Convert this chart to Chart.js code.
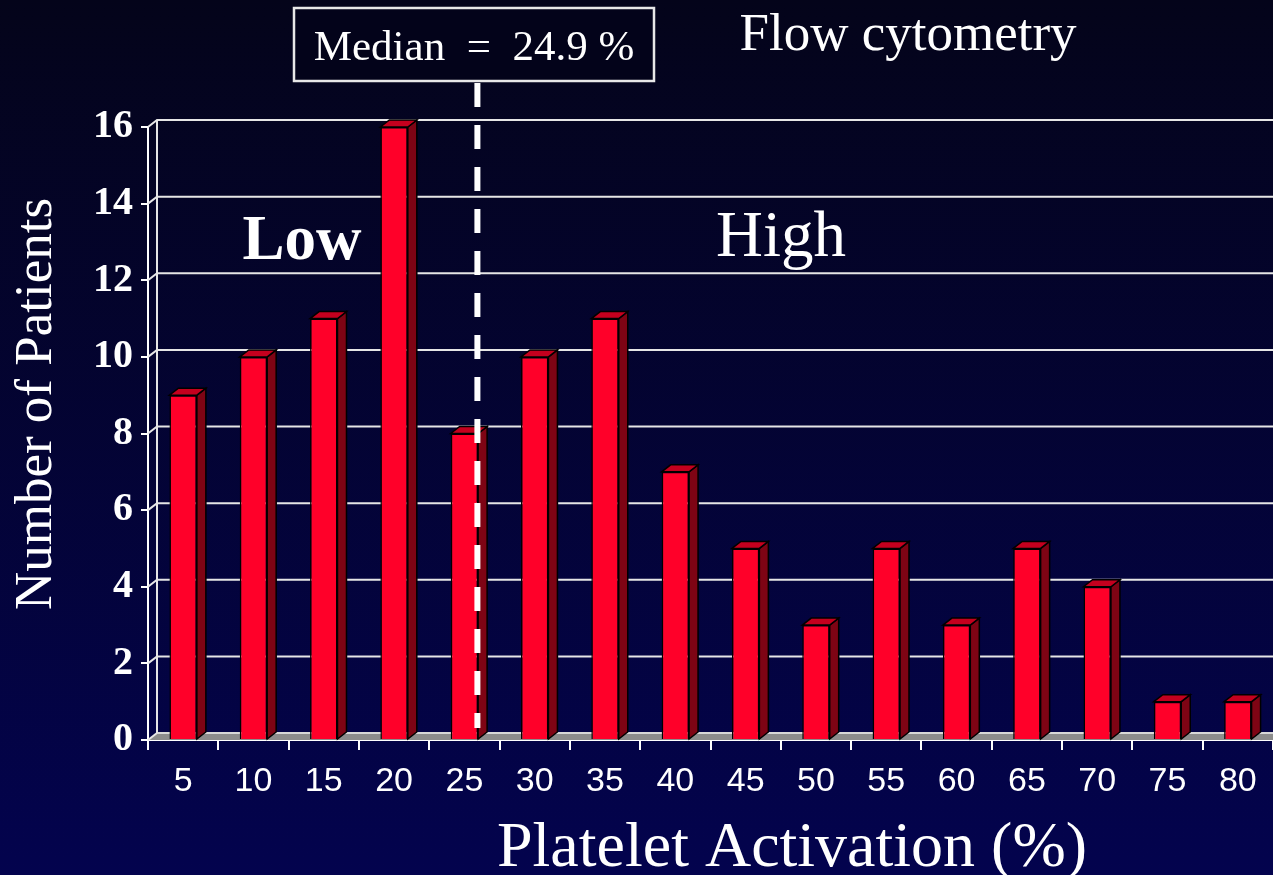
<!DOCTYPE html>
<html>
<head>
<meta charset="utf-8">
<script src="https://cdn.jsdelivr.net/npm/chart.js@4"></script>
<style>
  html, body { margin: 0; padding: 0; background: #000018; }
  #wrap { width: 1273px; height: 875px; }
</style>
</head>
<body>
<div id="wrap"><canvas id="myChart" width="1273" height="875"></canvas></div>
<script>
const categories = ["5","10","15","20","25","30","35","40","45","50","55","60","65","70","75","80"];
const patients = [9, 10, 11, 16, 8, 10, 11, 7, 5, 3, 5, 3, 5, 4, 1, 1];
const yTicks = [0, 2, 4, 6, 8, 10, 12, 14, 16];
const medianLabel = "Median  =  24.9 %";

// depth of the fake 3d
const DX = 9, DY = 7;
const SERIF = "'Liberation Serif', 'Times New Roman', serif";

const bgPlugin = {
    id: "bg",
    beforeDraw(chart) {
        const c = chart.ctx;
        const g = c.createLinearGradient(0, 0, 0, chart.height);
        g.addColorStop(0, "#04041a");
        g.addColorStop(1, "#03034e");
        c.save();
        c.fillStyle = g;
        c.fillRect(0, 0, chart.width, chart.height);
        c.restore();
    }
};

const wallPlugin = {
    id: "wall",
    beforeDatasetsDraw(chart) {
        const c = chart.ctx;
        const a = chart.chartArea;
        const y = chart.scales.y;
        c.save();
        // floor
        c.fillStyle = "#8c8c8c";
        c.beginPath();
        c.moveTo(a.left, a.bottom);
        c.lineTo(a.left + DX, a.bottom - DY);
        c.lineTo(a.right, a.bottom - DY);
        c.lineTo(a.right, a.bottom);
        c.closePath();
        c.fill();
        c.strokeStyle = "#d8d8d8";
        c.lineWidth = 2;
        c.beginPath();
        c.moveTo(a.left + DX, a.bottom - DY);
        c.lineTo(a.right, a.bottom - DY);
        c.stroke();
        // back wall grid
        c.strokeStyle = "#e6e6e6";
        c.lineWidth = 2;
        yTicks.forEach(v => {
            const py = y.getPixelForValue(v);
            c.beginPath();
            c.moveTo(a.left, py);
            c.lineTo(a.left + DX, py - DY);
            if (v > 0) c.lineTo(a.right, py - DY);
            c.stroke();
        });
        c.beginPath();
        c.moveTo(a.left + DX, y.getPixelForValue(16) - DY);
        c.lineTo(a.left + DX, a.bottom - DY);
        c.stroke();
        c.restore();
    },
    afterDatasetsDraw(chart) {
        const c = chart.ctx;
        const meta = chart.getDatasetMeta(0);
        c.save();
        c.lineWidth = 1.5;
        c.strokeStyle = "#000000";
        meta.data.forEach(bar => {
            const p = bar.getProps(["x", "y", "base", "width"], true);
            const l = p.x - p.width / 2, r = p.x + p.width / 2;
            // side
            c.fillStyle = "#7e0414";
            c.beginPath();
            c.moveTo(r, p.y);
            c.lineTo(r + DX, p.y - DY);
            c.lineTo(r + DX, p.base - DY);
            c.lineTo(r, p.base);
            c.closePath();
            c.fill();
            c.stroke();
            // top
            c.fillStyle = "#c4001e";
            c.beginPath();
            c.moveTo(l, p.y);
            c.lineTo(l + DX, p.y - DY);
            c.lineTo(r + DX, p.y - DY);
            c.lineTo(r, p.y);
            c.closePath();
            c.fill();
            c.stroke();
        });
        c.restore();
    }
};

const textPlugin = {
    id: "texts",
    afterDraw(chart) {
        const c = chart.ctx;
        const a = chart.chartArea;
        const x = chart.scales.x;
        c.save();
        // median dashed line
        const mx = x.getPixelForValue(4) + 13;
        c.strokeStyle = "#ffffff";
        c.lineWidth = 6;
        c.setLineDash([24, 18]);
        c.beginPath();
        c.moveTo(mx, 83);
        c.lineTo(mx, a.bottom - 12);
        c.stroke();
        c.setLineDash([]);
        // median box
        c.fillStyle = "#03031a";
        c.fillRect(294, 8, 360, 73);
        c.strokeStyle = "#e8e8e8";
        c.lineWidth = 2.5;
        c.strokeRect(294, 8, 360, 73);
        c.fillStyle = "#ffffff";
        c.textBaseline = "alphabetic";
        c.textAlign = "center";
        c.font = "43px " + SERIF;
        c.fillText(medianLabel, 474, 60);
        c.font = "53px " + SERIF;
        c.fillText("Flow cytometry", 908, 50);
        c.font = "bold 63px " + SERIF;
        c.fillText("Low", 302, 259);
        c.font = "65px " + SERIF;
        c.fillText("High", 781, 256);
        c.font = "64px " + SERIF;
        c.fillText("Platelet Activation (%)", 792, 866);
        // y title
        c.translate(51, 404);
        c.rotate(-Math.PI / 2);
        c.font = "53px " + SERIF;
        c.fillText("Number of Patients", 0, 0);
        c.restore();
    }
};

const ctx = document.getElementById("myChart").getContext("2d");

const myChart = new Chart(ctx, {
    type: "bar",
    data: {
        labels: categories,
        datasets: [
            {
                label: "Number of Patients",
                data: patients,
                backgroundColor: "#ff0029",
                borderColor: "#000000",
                borderWidth: 1.5,
                barPercentage: 0.39,
                categoryPercentage: 1
            }
        ]
    },
    options: {
        responsive: false,
        animation: false,
        layout: { padding: { top: 127, right: 0, left: 0, bottom: 0 } },
        scales: {
            x: {
                offset: true,
                grid: {
                    offset: true,
                    drawOnChartArea: false,
                    drawTicks: true,
                    tickLength: 10,
                    color: "#ffffff",
                    lineWidth: 2
                },
                border: { color: "#ffffff", width: 2 },
                ticks: {
                    color: "#ffffff",
                    padding: 11,
                    maxRotation: 0,
                    autoSkip: false,
                    font: { family: "'Liberation Sans', Arial, sans-serif", size: 34 }
                },
                afterFit(scale) { scale.height = 135; }
            },
            y: {
                min: 0,
                max: 16,
                afterBuildTicks(scale) { scale.ticks = yTicks.map(v => ({ value: v })); },
                grid: {
                    drawOnChartArea: false,
                    drawTicks: true,
                    tickLength: 7,
                    color: "#ffffff",
                    lineWidth: 2
                },
                border: { color: "#ffffff", width: 2 },
                ticks: {
                    color: "#ffffff",
                    padding: 8,
                    font: { family: SERIF, size: 40, weight: "bold" }
                },
                afterFit(scale) { scale.width = 148; }
            }
        },
        plugins: {
            legend: { display: false },
            tooltip: { enabled: false }
        }
    },
    plugins: [bgPlugin, wallPlugin, textPlugin]
});
</script>
</body>
</html>
